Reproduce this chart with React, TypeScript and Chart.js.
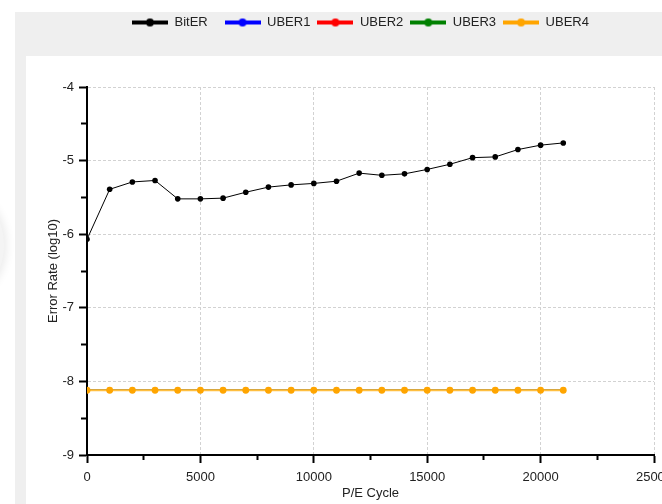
import React, { useEffect, useRef } from 'react';
import { Chart, registerables } from 'chart.js';

Chart.register(...registerables);

// P/E cycle counts at which the error rates were sampled
const peCycles = [
  0, 1000, 2000, 3000, 4000, 5000, 6000, 7000, 8000, 9000, 10000,
  11000, 12000, 13000, 14000, 15000, 16000, 17000, 18000, 19000, 20000, 21000,
];

// log10 of the raw bit error rate
const bitER = [
  -6.07, -5.39, -5.29, -5.27, -5.52, -5.52, -5.51, -5.43, -5.36, -5.33, -5.31,
  -5.28, -5.17, -5.2, -5.18, -5.12, -5.05, -4.96, -4.95, -4.85, -4.79, -4.76,
];

// log10 of the uncorrectable bit error rate for each ECC setting
const uber1 = [
  -8.12, -8.12, -8.12, -8.12, -8.12, -8.12, -8.12, -8.12, -8.12, -8.12, -8.12,
  -8.12, -8.12, -8.12, -8.12, -8.12, -8.12, -8.12, -8.12, -8.12, -8.12, -8.12,
];
const uber2 = [
  -8.12, -8.12, -8.12, -8.12, -8.12, -8.12, -8.12, -8.12, -8.12, -8.12, -8.12,
  -8.12, -8.12, -8.12, -8.12, -8.12, -8.12, -8.12, -8.12, -8.12, -8.12, -8.12,
];
const uber3 = [
  -8.12, -8.12, -8.12, -8.12, -8.12, -8.12, -8.12, -8.12, -8.12, -8.12, -8.12,
  -8.12, -8.12, -8.12, -8.12, -8.12, -8.12, -8.12, -8.12, -8.12, -8.12, -8.12,
];
const uber4 = [
  -8.12, -8.12, -8.12, -8.12, -8.12, -8.12, -8.12, -8.12, -8.12, -8.12, -8.12,
  -8.12, -8.12, -8.12, -8.12, -8.12, -8.12, -8.12, -8.12, -8.12, -8.12, -8.12,
];

const seriesNames = ['BitER', 'UBER1', 'UBER2', 'UBER3', 'UBER4'];
// legend entries share one width, so the shorter name carries trailing spaces
const legendTexts = ['BitER  \u2009', 'UBER1', 'UBER2', 'UBER3', 'UBER4'];
const seriesColors = ['#000000', '#0000ff', '#ff0000', '#008000', '#ffa500'];
const lineColors = ['#000000', '#0000ff', '#ff0000', '#008000', '#ffbf40'];

// axis ranges
const xMin = 0;
const xMax = 25000;
const xMinorStep = 2500;
const xMajorStep = 5000;
const yMin = -9;
const yMax = -4;
const yMinorStep = 0.5;
const yMajorStep = 1;

const FONT = '"Liberation Sans", Arial, Helvetica, sans-serif';
const TEXT = '#222222';
const GRID = '#d2d2d2';

const isMajor = (v: number, step: number) => Math.abs(v / step - Math.round(v / step)) < 1e-6;

// line-with-marker swatch used as the legend symbol
function makeSwatch(color: string): HTMLCanvasElement {
  const c = document.createElement('canvas');
  c.width = 36;
  c.height = 10;
  const g = c.getContext('2d')!;
  g.strokeStyle = color;
  g.lineWidth = 4;
  g.beginPath();
  g.moveTo(0, 5);
  g.lineTo(36, 5);
  g.stroke();
  g.fillStyle = color;
  g.beginPath();
  g.arc(18, 5, 4, 0, Math.PI * 2);
  g.fill();
  return c;
}

// keeps the legend strip in the header band, above the plot panel
const legendPlacement = {
  id: 'legendPlacement',
  afterLayout(chart: any) {
    const lg = chart.legend;
    if (!lg) return;
    const h = lg.bottom - lg.top;
    lg.top = 9;
    lg.bottom = 9 + h;
    lg.left = 125;
  },
};

export default function App() {
  const ref = useRef<HTMLCanvasElement | null>(null);

  useEffect(() => {
    if (!ref.current) return;
    const swatches = seriesColors.map(makeSwatch);
    const series = [bitER, uber1, uber2, uber3, uber4];
    const order = [0, 4, 3, 2, 1];

    const datasets = series.map((vals, i) => {
      const isBit = i === 0;
      const isTop = i === 4;
      const col = seriesColors[i];
      return {
        label: seriesNames[i],
        data: peCycles.map((x, k) => ({ x, y: vals[k] })),
        borderColor: lineColors[i],
        backgroundColor: col,
        borderWidth: isBit ? 1 : isTop ? 2 : 1.5,
        pointRadius: isBit ? 2.8 : isTop ? 3.4 : 2.6,
        pointBackgroundColor: col,
        pointBorderColor: col,
        pointBorderWidth: 0,
        pointHoverRadius: 3,
        tension: 0,
        fill: false,
        order: order[i],
      };
    });

    const chart = new Chart(ref.current, {
      type: 'line',
      data: { datasets },
      plugins: [legendPlacement],
      options: {
        animation: false,
        responsive: false,
        maintainAspectRatio: false,
        layout: { padding: { left: 46, right: 46, top: 57, bottom: 0 } },
        font: { family: FONT, size: 13 },
        plugins: {
          tooltip: { enabled: false },
          legend: {
            display: true,
            position: 'top',
            align: 'start',
            labels: {
              usePointStyle: true,
              pointStyleWidth: 36,
              padding: 7,
              color: TEXT,
              font: { family: FONT, size: 13 },
              generateLabels: (c: any) =>
                c.data.datasets.map((ds: any, i: number) => ({
                  text: legendTexts[i],
                  fillStyle: seriesColors[i],
                  strokeStyle: seriesColors[i],
                  lineWidth: 0,
                  pointStyle: swatches[i],
                  fontColor: TEXT,
                  hidden: !c.isDatasetVisible(i),
                  datasetIndex: i,
                })),
            },
          },
        },
        scales: {
          x: {
            type: 'linear',
            min: xMin,
            max: xMax,
            afterFit: (s: any) => {
              s.height = 49;
            },
            ticks: {
              stepSize: xMinorStep,
              autoSkip: false,
              maxRotation: 0,
              padding: 7,
              color: TEXT,
              font: { family: FONT, size: 13 },
              callback: (v: any) => (isMajor(Number(v), xMajorStep) ? String(v) : ''),
            },
            grid: {
              color: (ctx: any) => (ctx.tick && isMajor(ctx.tick.value, xMajorStep) ? GRID : 'rgba(0,0,0,0)'),
              lineWidth: 1,
              drawTicks: true,
              tickLength: 8,
              tickWidth: 2,
              tickColor: '#000000',
              tickBorderDash: (ctx: any) => (ctx.tick && isMajor(ctx.tick.value, xMajorStep) ? [] : [4, 20]),
              tickBorderDashOffset: 0,
            },
            border: { display: true, color: '#000000', width: 2, dash: [3, 2] },
            title: {
              display: true,
              text: 'P/E Cycle',
              color: TEXT,
              font: { family: FONT, size: 13 },
              padding: { top: 0, bottom: 3 },
            },
          },
          y: {
            type: 'linear',
            min: yMin,
            max: yMax,
            afterFit: (s: any) => {
              s.width = 41;
            },
            ticks: {
              stepSize: yMinorStep,
              autoSkip: false,
              padding: 5,
              color: TEXT,
              font: { family: FONT, size: 13 },
              callback: (v: any) => (isMajor(Number(v), yMajorStep) ? String(v) : ''),
            },
            grid: {
              color: (ctx: any) => (ctx.tick && isMajor(ctx.tick.value, yMajorStep) ? GRID : 'rgba(0,0,0,0)'),
              lineWidth: 1,
              drawTicks: true,
              tickLength: 8,
              tickWidth: 2,
              tickColor: '#000000',
              tickBorderDash: (ctx: any) => (ctx.tick && isMajor(ctx.tick.value, yMajorStep) ? [] : [5, 2]),
              tickBorderDashOffset: (ctx: any) => (ctx.tick && isMajor(ctx.tick.value, yMajorStep) ? 0 : 5),
            },
            border: { display: true, color: '#000000', width: 2, dash: [3, 2] },
            title: {
              display: true,
              text: 'Error Rate (log10)',
              color: TEXT,
              font: { family: FONT, size: 13 },
              padding: { top: 0, bottom: 0 },
            },
          },
        },
      } as any,
    });

    return () => chart.destroy();
  }, []);

  return (
    <div
      style={{
        position: 'fixed',
        left: 0,
        top: 0,
        width: 662,
        height: 504,
        overflow: 'hidden',
        background: '#ffffff',
      }}
    >
      <div
        style={{
          position: 'absolute',
          left: -62,
          top: 198,
          width: 66,
          height: 94,
          borderRadius: '50%',
          background: '#f4f4f4',
          boxShadow: '0 0 8px 3px rgba(0,0,0,0.08)',
        }}
      />
      <div style={{ position: 'absolute', left: 15, top: 12, right: 0, bottom: 0, background: '#efefef' }} />
      <div style={{ position: 'absolute', left: 26, top: 56, right: 0, bottom: 0, background: '#ffffff' }} />
      <canvas ref={ref} width={700} height={504} style={{ position: 'absolute', left: 0, top: 0, width: 700, height: 504 }} />
    </div>
  );
}
